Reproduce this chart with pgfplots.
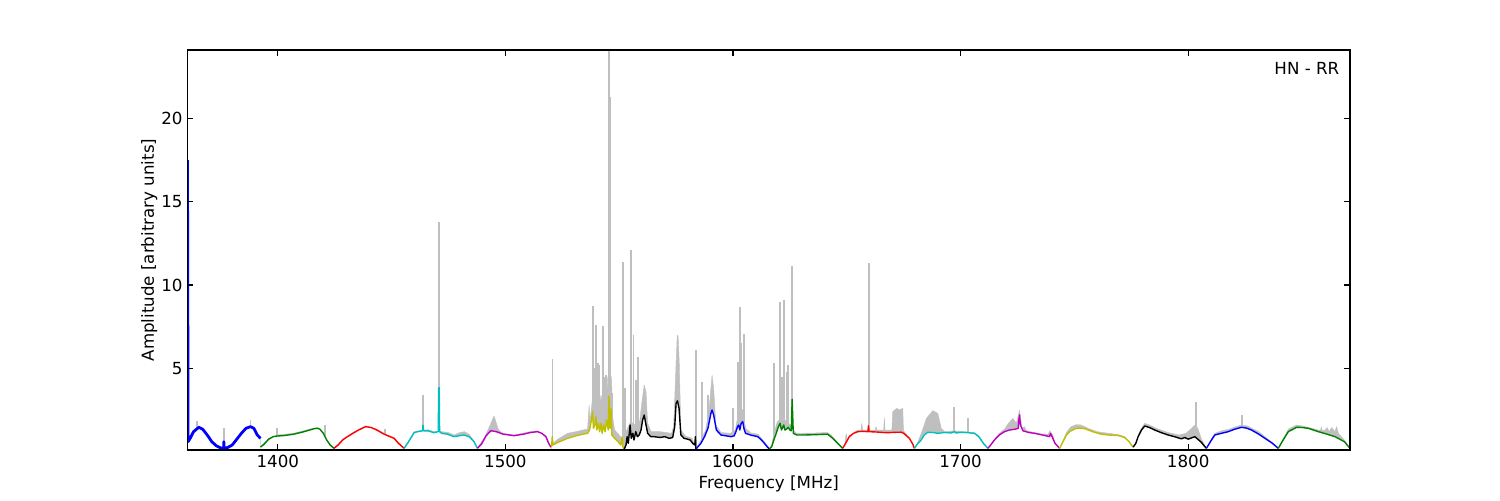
\documentclass[border=0pt]{standalone}
\usepackage{fontspec}
\setmainfont{DejaVu Sans}
\usepackage{pgfplots}
\usepackage{pgfplotstable}
\pgfplotsset{compat=1.18}
\definecolor{silver}{rgb}{0.75,0.75,0.75}
\definecolor{mb}{rgb}{0,0,1}
\definecolor{mg}{rgb}{0,0.5,0}
\definecolor{mr}{rgb}{1,0,0}
\definecolor{mc}{rgb}{0,0.75,0.75}
\definecolor{mm}{rgb}{0.75,0,0.75}
\definecolor{my}{rgb}{0.75,0.75,0}
% coloured sub-bands
\pgfplotstableread{
x y
1360.33 17.5
1360.6 0.6
1361.5 0.8
1363 1.2
1365.3 1.46
1367 1.35
1369 1.0
1371 0.6
1373 0.35
1375 0.22
1376.2 0.2
1376.3 0.6
1376.4 0.2
1378 0.25
1380 0.4
1382 0.75
1384 1.1
1386 1.4
1388 1.5
1389.5 1.4
1391 1.0
1392.4 0.8
}\bA
\pgfplotstableread{
x y
1392.4 0.27
1394 0.45
1396 0.75
1398 0.9
1399.8 0.94
1403 0.97
1407 1.05
1411 1.18
1414 1.3
1416 1.38
1417.4 1.4
1418.5 1.35
1420 1.1
1421.5 0.7
1423 0.4
1424.7 0.2
}\bB
\pgfplotstableread{
x y
1424.7 0.2
1426.5 0.4
1428.5 0.7
1430.6 0.9
1433 1.1
1435.5 1.3
1438.6 1.5
1441 1.45
1443.5 1.3
1446 1.1
1448.2 0.96
1451.1 0.8
1453 0.5
1455.5 0.2
}\bC
\pgfplotstableread{
x y
1455.5 0.2
1457.5 0.6
1459.9 1.14
1462 1.22
1463.6 1.25
1463.8 1.6
1464.1 1.25
1466 1.25
1468.6 1.14
1470.5 1.2
1470.7 3.85
1470.9 3.85
1471.1 1.2
1472 1.1
1474.5 1.05
1477.4 0.9
1479.5 0.95
1481.8 1.0
1484 0.9
1486.2 0.6
1487.7 0.2
}\bD
\pgfplotstableread{
x y
1487.7 0.2
1489.5 0.45
1491.5 0.95
1493.6 1.26
1496 1.2
1499 1.05
1503.8 0.96
1508 1.05
1511 1.15
1514.1 1.2
1516 1.1
1517.8 0.9
1519 0.5
1520 0.27
}\bE
\pgfplotstableread{
x y
1520.3 0.3
1520.6 0.9
1520.9 0.4
1523 0.55
1527.3 0.8
1531 0.95
1534 1.05
1536.1 1.1
1537 1.3
1537.8 1.9
1538.3 2.4
1538.7 1.4
1539.3 1.6
1539.8 2.1
1540.2 1.3
1540.8 1.7
1541.4 1.2
1542 1.7
1542.5 1.1
1543.2 1.6
1543.8 1.2
1544.5 1.9
1545.2 1.3
1545.5 3.34
1545.9 1.4
1546.4 2.6
1546.8 1.0
1548 0.8
1549.5 0.6
1550.7 0.4
1551.3 0.9
1551.6 0.3
1552.2 0.15
}\bF
\pgfplotstableread{
x y
1552.2 0.15
1553 0.4
1553.5 0.9
1554 0.5
1554.8 1.6
1555.3 0.8
1556 1.1
1556.5 0.7
1557.3 1.2
1558 0.9
1558.8 1.0
1559.6 1.3
1560.3 1.9
1561 2.2
1561.8 1.6
1562.5 1.1
1563.9 0.9
1565.4 0.9
1568 0.85
1570 0.9
1572 0.8
1573.5 0.85
1574.4 1.5
1575 2.9
1575.6 3.05
1576.3 2.6
1577.1 1.0
1578.5 0.8
1580.1 0.75
1581.2 0.7
1582.3 0.5
1583.2 0.4
1583.5 0.9
1583.7 0.15
}\bG
\pgfplotstableread{
x y
1583.7 0.15
1585.9 0.5
1587.5 0.9
1589 1.4
1590.3 2.3
1590.8 2.5
1591.5 2.2
1592.7 1.3
1594.7 1.0
1597 0.95
1599.1 0.9
1600.5 0.95
1601.3 1.2
1602 1.5
1602.5 1.6
1603 1.3
1603.6 1.7
1604.3 1.8
1604.8 1.4
1605.5 1.1
1607.9 0.99
1610.9 0.9
1612.5 0.7
1613.8 0.5
1615 0.3
1616 0.15
}\bH
\pgfplotstableread{
x y
1616 0.15
1617 0.3
1618.2 0.8
1619 1.1
1619.7 1.4
1620.3 1.6
1620.7 1.7
1621.3 1.3
1621.8 1.45
1622.3 1.6
1622.8 1.3
1623.5 1.35
1624.3 1.46
1625 1.3
1625.6 1.25
1626 3.14
1626.5 1.1
1628 1.0
1631.4 1.0
1636 1.02
1641.6 1.05
1643.8 0.8
1646 0.5
1648.2 0.2
}\bI
\pgfplotstableread{
x y
1648.2 0.2
1649.5 0.5
1651.1 0.9
1653 1.1
1654.8 1.2
1657 1.22
1659.3 1.2
1659.5 1.55
1659.8 1.2
1663 1.18
1666 1.15
1668 1.14
1671 1.16
1673.9 1.17
1675 1.1
1677.5 0.8
1679 0.45
1679.7 0.2
}\bJ
\pgfplotstableread{
x y
1679.7 0.2
1681 0.45
1682.7 0.7
1684 1.0
1685.6 1.16
1688 1.15
1690 1.1
1693 1.15
1695.9 1.12
1697.3 1.2
1698 1.12
1700.3 1.16
1703.2 1.14
1706.1 1.1
1708 0.9
1710 0.5
1712 0.2
}\bK
\pgfplotstableread{
x y
1712 0.2
1713.5 0.45
1714.9 0.7
1717 1.0
1719.3 1.2
1721.5 1.3
1723.7 1.34
1725.3 1.4
1725.6 1.9
1725.9 2.2
1726.3 1.6
1727.4 1.25
1730 1.15
1732.5 1.1
1736 1.0
1739.1 0.9
1739.5 1.1
1740.2 0.9
1741.5 0.5
1743.5 0.2
}\bL
\pgfplotstableread{
x y
1743.5 0.2
1745 0.6
1746.5 1.0
1747.9 1.2
1750.8 1.4
1752.5 1.42
1754.5 1.38
1758 1.2
1761.8 1.05
1765 1.0
1769.2 0.97
1772.1 0.85
1774 0.6
1775.8 0.27
}\bM
\pgfplotstableread{
x y
1775.8 0.27
1777 0.5
1778 0.9
1779.5 1.3
1780.9 1.54
1783 1.45
1785.3 1.3
1788 1.15
1791.2 1.0
1794 0.9
1797 0.77
1798.5 0.85
1800 0.75
1802.9 0.9
1805.5 0.6
1808 0.2
}\bN
\pgfplotstableread{
x y
1808 0.2
1810 0.65
1811.7 1.0
1814.6 1.1
1817.6 1.2
1820.5 1.35
1823.4 1.46
1825.5 1.42
1827.8 1.3
1831 1.05
1833.7 0.8
1837 0.5
1839.6 0.2
}\bO
\pgfplotstableread{
x y
1839.6 0.2
1841.5 0.65
1844 1.2
1847.6 1.46
1850 1.45
1852.8 1.4
1857.2 1.2
1861 1.05
1864.5 0.9
1868.6 0.6
1871.1 0.2
}\bP
\begin{document}
\begin{tikzpicture}
\useasboundingbox (-135pt,-36pt) rectangle (945pt,324pt);
\begin{axis}[
  at={(0,0)}, anchor=south west,
  scale only axis, width=837pt, height=288pt,
  xmin=1360.33, xmax=1871.1, ymin=0.1, ymax=24.1,
  xtick={1400,1500,1600,1700,1800}, ytick={5,10,15,20},
  tick align=inside, major tick length=4pt, minor tick num=0,
  axis on top,
  axis line style={line width=1pt},
  every tick/.style={black, line width=0.8pt},
  xlabel={Frequency [MHz]}, ylabel={Amplitude [arbitrary units]},
  ylabel shift=-4pt, xlabel shift=-1pt,
  label style={font=\fontsize{12}{14}\selectfont},
  tick label style={font=\fontsize{12}{14}\selectfont},
  /pgf/number format/assume math mode=true,
  xticklabel style={/pgf/number format/1000 sep=},
  every axis plot/.append style={line join=round},
  wfill/.style={fill=white, draw=none, forget plot},
]
% gray envelope
\addplot[fill=silver, draw=silver, line width=0.3pt] coordinates {
(1360.33,0.6)(1361,0.9)(1363,1.3)(1365.3,1.55)(1368,1.2)(1371,0.65)(1374,0.3)(1376.3,0.25)(1380,0.45)(1384,1.15)(1388,1.55)(1391,1.05)(1392.4,0.8)
(1392.5,0.3)(1396,0.8)(1399.8,1.0)(1407,1.1)(1414,1.35)(1417.4,1.45)(1420,1.15)(1422,0.6)(1424.7,0.22)
(1428.5,0.75)(1433,1.15)(1438.6,1.55)(1443.5,1.35)(1448.2,1.0)(1451.1,0.85)(1455.5,0.22)
(1459.9,1.2)(1466,1.32)(1468.6,1.2)(1472,1.2)(1475,1.15)(1477.4,1.0)(1480,1.15)(1482,1.2)(1484,1.05)(1486.2,0.65)(1487.7,0.22)
(1491,0.9)(1493,1.5)(1495,2.15)(1497,1.3)(1499,1.1)(1503.8,1.0)(1511,1.2)(1514.1,1.25)(1517.8,0.95)(1520,0.3)
(1520.9,0.5)(1523,0.75)(1527.3,1.1)(1531,1.2)(1534,1.3)(1536.1,1.35)(1536.8,2.8)(1537.2,1.8)(1538.8,3.9)(1539.5,2.5)(1540.5,3.5)(1541,2.4)(1542,3.4)(1543,2.6)(1543.7,4.0)(1544.4,2.8)(1545,4.5)(1546.6,4.5)(1547.2,2.0)(1548,1.3)(1550,1.0)(1551,0.8)(1552.2,0.25)
(1552.6,0.4)(1553,1.2)(1555,1.8)(1557,1.6)(1559,1.8)(1560,3.0)(1561,4.0)(1561.8,3.6)(1562.5,1.7)(1564,1.2)(1568,1.2)(1573,1.1)(1573.9,1.5)(1575.5,7.0)(1575.9,6.9)(1576.4,5.3)(1577.1,1.3)(1579,0.95)(1582,0.8)(1583.7,0.2)
(1586,0.7)(1588,1.3)(1589.5,2.5)(1590.8,4.6)(1591.5,3.8)(1592.5,1.6)(1594.7,1.15)(1599,1.1)(1601,1.3)(1602,2.0)(1603,2.6)(1604.5,2.5)(1605.5,1.4)(1607.9,1.12)(1611,1.05)(1613.8,0.6)(1616,0.2)
(1617,0.4)(1618.2,1.2)(1619.5,1.8)(1621,2.0)(1622.5,1.9)(1624,1.8)(1625.6,1.5)(1626.5,1.3)(1628,1.1)(1636,1.12)(1641.6,1.15)(1643.8,0.9)(1646,0.55)(1648.2,0.2)
(1649.2,0.5)(1649.7,1.1)(1650.2,0.7)(1651.1,0.95)(1654.8,1.3)(1656.2,1.3)(1656.6,1.7)(1657,1.3)(1662.5,1.3)(1662.9,1.5)(1663.3,1.3)(1666.2,1.3)(1666.5,2.04)(1666.8,1.3)(1669.8,1.3)(1670.2,2.4)(1671,2.5)(1672,2.6)(1673,2.5)(1674.6,2.6)(1674.9,1.25)(1677.5,0.85)(1679.7,0.2)
(1681,0.5)(1683,1.2)(1685,2.0)(1687.8,2.46)(1690,2.3)(1691.5,1.4)(1693,1.2)(1697,1.25)(1700.3,1.22)(1706.1,1.15)(1708,0.95)(1710,0.55)(1712,0.2)
(1714.9,0.75)(1717,1.1)(1719.3,1.35)(1721,1.7)(1723,2.0)(1724.5,1.7)(1725.9,2.5)(1727,1.4)(1728,1.5)(1729,1.25)(1732.5,1.15)(1736,1.05)(1738.5,1.05)(1739.2,1.25)(1740.5,1.0)(1741.5,0.55)(1743.5,0.2)
(1745,0.65)(1746.5,1.15)(1748.5,1.5)(1750.8,1.62)(1753,1.6)(1756,1.4)(1760,1.2)(1765,1.1)(1769.2,1.03)(1772.1,0.9)(1774,0.65)(1775.8,0.27)
(1777,0.55)(1779,1.3)(1780.9,1.7)(1783,1.6)(1786,1.4)(1791,1.15)(1796,1.0)(1799,1.1)(1801.5,1.4)(1803,1.6)(1804.2,1.4)(1806,0.7)(1808,0.2)
(1810,0.7)(1811.7,1.1)(1814.6,1.25)(1818,1.35)(1821,1.5)(1823.4,1.6)(1826,1.55)(1828,1.4)(1831,1.2)(1833.7,0.9)(1837,0.55)(1839.6,0.2)
(1841.5,0.7)(1844,1.35)(1847.6,1.6)(1850,1.55)(1853,1.45)(1857,1.3)(1858.2,1.3)(1858.5,1.5)(1858.8,1.3)(1860,1.25)(1861,1.45)(1862,1.2)(1863,1.45)(1864.5,1.2)(1865.2,1.5)(1866,1.1)(1868.6,0.7)(1871.1,0.2)
} \closedcycle;
% gray narrow spikes
\addplot[ycomb, draw=silver, line width=1.4pt] coordinates {
(1364.6,1.84)(1376.3,1.4)(1388.0,1.9)(1399.8,1.4)(1420.6,1.6)(1447.0,1.35)(1463.8,3.4)(1470.8,13.8)
(1520.7,5.55)(1538.3,8.73)(1539.1,5.0)(1539.8,7.58)(1540.6,5.3)(1541.3,5.2)(1542.7,7.53)(1543.5,4.5)(1544.2,4.6)(1545.5,24.1)(1546.1,21.3)(1546.8,3.5)
(1551.8,11.37)(1552.6,3.8)(1555.1,12.13)(1556.3,7.0)(1557.3,4.3)(1558.1,5.7)
(1583.7,6.1)(1586.4,4.2)(1588.9,3.4)(1600.0,2.6)(1602.3,5.4)(1603.2,8.69)(1603.7,6.5)(1604.7,7.05)
(1618.2,5.3)(1620.7,9.0)(1621.6,4.5)(1622.3,9.13)(1623.5,4.8)(1624.3,5.2)(1626.0,11.13)
(1659.9,11.3)(1697.3,2.66)(1703.2,2.0)(1803.6,3.0)(1823.7,2.2)
};
% white below each sub-band
\addplot[wfill] table[x=x,y=y] {\bA} \closedcycle;
\addplot[wfill] table[x=x,y=y] {\bB} \closedcycle;
\addplot[wfill] table[x=x,y=y] {\bC} \closedcycle;
\addplot[wfill] table[x=x,y=y] {\bD} \closedcycle;
\addplot[wfill] table[x=x,y=y] {\bE} \closedcycle;
\addplot[wfill] table[x=x,y=y] {\bF} \closedcycle;
\addplot[wfill] table[x=x,y=y] {\bG} \closedcycle;
\addplot[wfill] table[x=x,y=y] {\bH} \closedcycle;
\addplot[wfill] table[x=x,y=y] {\bI} \closedcycle;
\addplot[wfill] table[x=x,y=y] {\bJ} \closedcycle;
\addplot[wfill] table[x=x,y=y] {\bK} \closedcycle;
\addplot[wfill] table[x=x,y=y] {\bL} \closedcycle;
\addplot[wfill] table[x=x,y=y] {\bM} \closedcycle;
\addplot[wfill] table[x=x,y=y] {\bN} \closedcycle;
\addplot[wfill] table[x=x,y=y] {\bO} \closedcycle;
\addplot[wfill] table[x=x,y=y] {\bP} \closedcycle;
\addplot[mb, line width=2pt] table[x=x,y=y] {\bA};
\addplot[mg, line width=1pt] table[x=x,y=y] {\bB};
\addplot[mr, line width=1pt] table[x=x,y=y] {\bC};
\addplot[mc, line width=1pt] table[x=x,y=y] {\bD};
\addplot[mm, line width=1pt] table[x=x,y=y] {\bE};
\addplot[my, line width=1pt] table[x=x,y=y] {\bF};
\addplot[black, line width=1pt] table[x=x,y=y] {\bG};
\addplot[mb, line width=1pt] table[x=x,y=y] {\bH};
\addplot[mg, line width=1pt] table[x=x,y=y] {\bI};
\addplot[mr, line width=1pt] table[x=x,y=y] {\bJ};
\addplot[mc, line width=1pt] table[x=x,y=y] {\bK};
\addplot[mm, line width=1pt] table[x=x,y=y] {\bL};
\addplot[my, line width=1pt] table[x=x,y=y] {\bM};
\addplot[black, line width=1pt] table[x=x,y=y] {\bN};
\addplot[mb, line width=1pt] table[x=x,y=y] {\bO};
\addplot[mg, line width=1pt] table[x=x,y=y] {\bP};
\node[anchor=north east, inner sep=0pt, font=\fontsize{12}{14}\selectfont] at (rel axis cs:0.991,0.97) {HN - RR};
\end{axis}
\end{tikzpicture}
\end{document}
